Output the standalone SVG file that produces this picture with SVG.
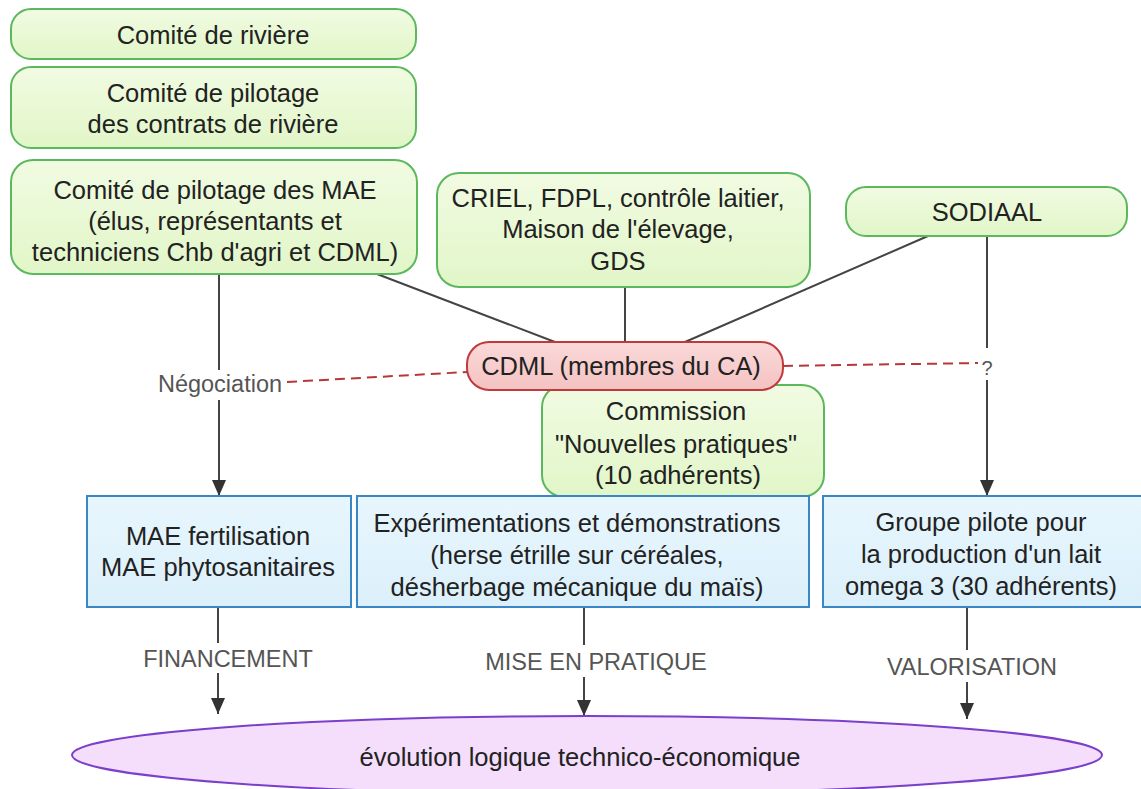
<svg xmlns="http://www.w3.org/2000/svg" width="1141" height="789" viewBox="0 0 1141 789">
<defs>
<linearGradient id="gGreen" x1="0" y1="0" x2="0" y2="1">
<stop offset="0" stop-color="#f1fbe2"/>
<stop offset="1" stop-color="#e1f6c8"/>
</linearGradient>
<linearGradient id="gRed" x1="0" y1="0" x2="0" y2="1">
<stop offset="0" stop-color="#fbd9d9"/>
<stop offset="1" stop-color="#f4c2c2"/>
</linearGradient>
<linearGradient id="gBlue" x1="0" y1="0" x2="0" y2="1">
<stop offset="0" stop-color="#e8f6fd"/>
<stop offset="1" stop-color="#dbf0fb"/>
</linearGradient>
<marker id="arrow" markerUnits="userSpaceOnUse" markerWidth="16" markerHeight="14" refX="16" refY="7" orient="auto">
<path d="M0,0 L16,7 L0,14 z" fill="#333"/>
</marker>
<style>
.green{fill:url(#gGreen);stroke:#5cb85c;stroke-width:2}
.red{fill:url(#gRed);stroke:#c0393b;stroke-width:2}
.blue{fill:url(#gBlue);stroke:#3a87c8;stroke-width:2}
.oval{fill:#f4defb;stroke:#7b3fcc;stroke-width:2}
.t{font-family:"Liberation Sans",Arial,sans-serif;font-size:25.5px;fill:#222;text-anchor:middle}
.lbl{font-family:"Liberation Sans",Arial,sans-serif;font-size:23.5px;fill:#555;text-anchor:middle}
.ln{stroke:#444;stroke-width:2;fill:none}
.dash{stroke:#b8383a;stroke-width:2;fill:none;stroke-dasharray:10 6}
</style>
</defs>
<rect width="1141" height="789" fill="#ffffff"/>

<g id="connectors">
<line class="ln" x1="219" y1="274" x2="219" y2="370"/>
<line class="ln" x1="219" y1="400" x2="219" y2="496" marker-end="url(#arrow)"/>
<text class="lbl" x="220" y="392">Négociation</text>
<line class="dash" x1="287" y1="382" x2="467" y2="372"/>
<line class="ln" x1="377" y1="274" x2="555" y2="342"/>
<line class="ln" x1="625" y1="287" x2="625" y2="342"/>
<line class="ln" x1="928" y1="236" x2="685" y2="342"/>
<line class="ln" x1="987" y1="236" x2="987" y2="348"/>
<line class="ln" x1="987" y1="380" x2="987" y2="496" marker-end="url(#arrow)"/>
<line class="dash" x1="783" y1="366" x2="978" y2="363"/>
<text class="lbl" x="987" y="375" style="font-size:20px">?</text>
<line class="ln" x1="218" y1="607" x2="218" y2="643"/>
<line class="ln" x1="218" y1="673" x2="218" y2="714" marker-end="url(#arrow)"/>
<text class="lbl" x="228" y="667">FINANCEMENT</text>
<line class="ln" x1="584" y1="608" x2="584" y2="645"/>
<line class="ln" x1="584" y1="677" x2="584" y2="716" marker-end="url(#arrow)"/>
<text class="lbl" x="596" y="670">MISE EN PRATIQUE</text>
<line class="ln" x1="967" y1="608" x2="967" y2="650"/>
<line class="ln" x1="967" y1="682" x2="967" y2="719" marker-end="url(#arrow)"/>
<text class="lbl" x="972" y="675">VALORISATION</text>
</g>

<g id="comite-riviere">
<rect class="green" x="11" y="9" width="405" height="50" rx="20"/>
<text class="t" x="213" y="44">Comité de rivière</text>
</g>
<g id="comite-pilotage-contrats">
<rect class="green" x="11" y="67" width="405" height="81" rx="20"/>
<text class="t" x="213" y="102">Comité de pilotage</text>
<text class="t" x="213" y="133">des contrats de rivière</text>
</g>
<g id="comite-pilotage-mae">
<rect class="green" x="11" y="160" width="406" height="114" rx="22"/>
<text class="t" x="215" y="199">Comité de pilotage des MAE</text>
<text class="t" x="215" y="230">(élus, représentants et</text>
<text class="t" x="215" y="261">techniciens Chb d'agri et CDML)</text>
</g>
<g id="criel">
<rect class="green" x="437" y="173" width="373" height="114" rx="22"/>
<text class="t" x="618" y="207">CRIEL, FDPL, contrôle laitier,</text>
<text class="t" x="618" y="238">Maison de l'élevage,</text>
<text class="t" x="618" y="270">GDS</text>
</g>
<g id="sodiaal">
<rect class="green" x="846" y="187" width="281" height="49" rx="20"/>
<text class="t" x="987" y="221">SODIAAL</text>
</g>
<g id="commission">
<rect class="green" x="542" y="385" width="282" height="112" rx="22"/>
<text class="t" x="676" y="420">Commission</text>
<text class="t" x="676" y="453">"Nouvelles pratiques"</text>
<text class="t" x="678" y="484">(10 adhérents)</text>
</g>
<g id="cdml">
<rect class="red" x="467" y="342" width="316" height="48" rx="22"/>
<text class="t" x="621" y="375">CDML (membres du CA)</text>
</g>
<g id="mae">
<rect class="blue" x="87" y="496" width="264" height="111"/>
<text class="t" x="218" y="545">MAE fertilisation</text>
<text class="t" x="218" y="576">MAE phytosanitaires</text>
</g>
<g id="experimentations">
<rect class="blue" x="357" y="496" width="452" height="111"/>
<text class="t" x="577" y="532">Expérimentations et démonstrations</text>
<text class="t" x="577" y="564">(herse étrille sur céréales,</text>
<text class="t" x="577" y="596">désherbage mécanique du maïs)</text>
</g>
<g id="groupe-pilote">
<rect class="blue" x="823" y="496" width="322" height="111"/>
<text class="t" x="981" y="531">Groupe pilote pour</text>
<text class="t" x="981" y="563">la production d'un lait</text>
<text class="t" x="981" y="595">omega 3 (30 adhérents)</text>
</g>
<g id="evolution">
<ellipse class="oval" cx="587" cy="755" rx="515" ry="39"/>
<text class="t" x="580" y="766">évolution logique technico-économique</text>
</g>
</svg>
